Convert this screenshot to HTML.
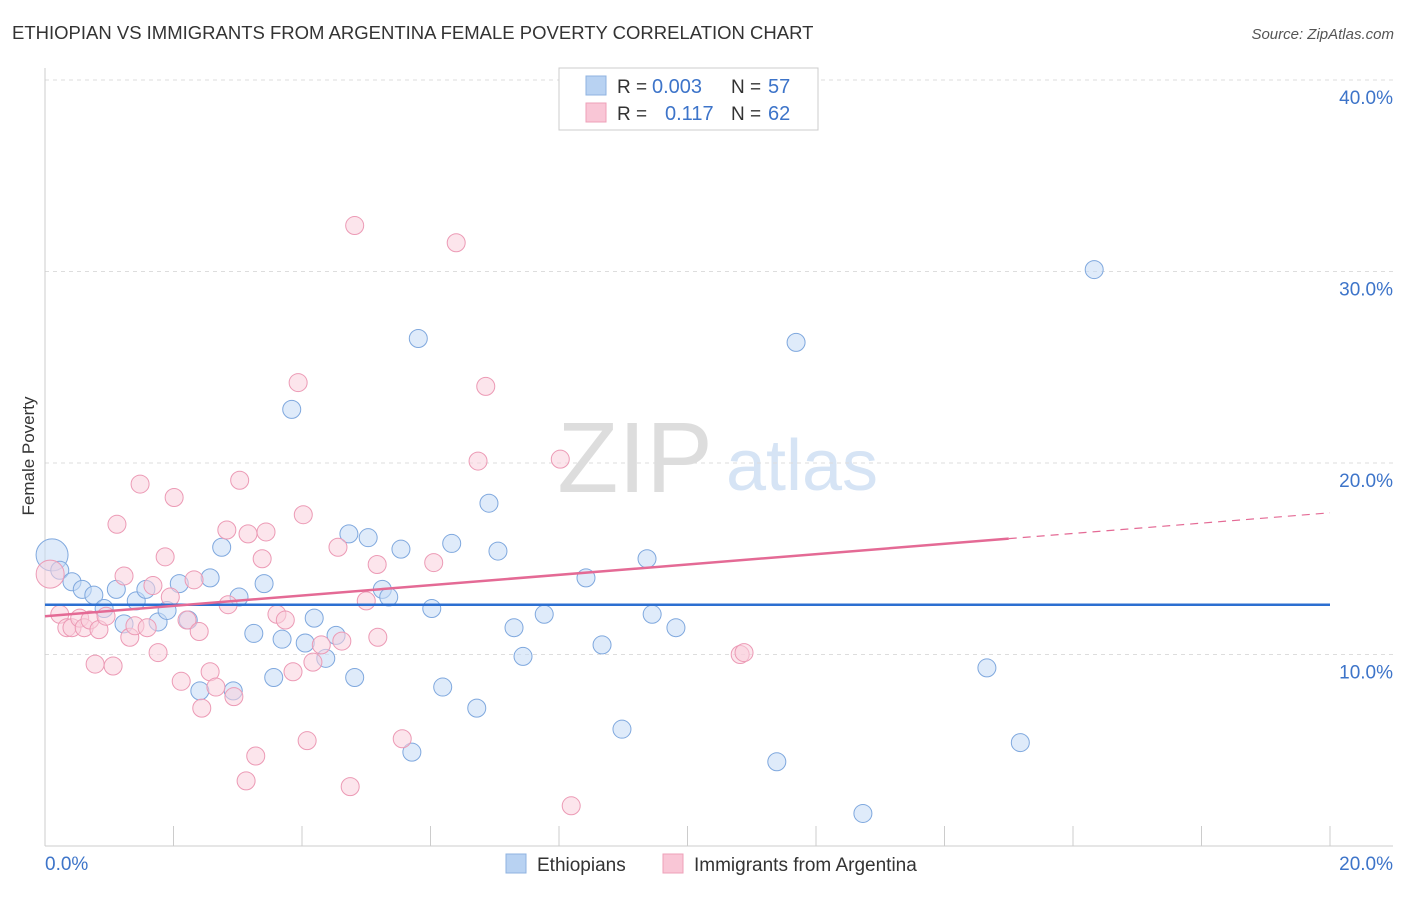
<!DOCTYPE html>
<html><head><meta charset="utf-8"><style>
body{margin:0;background:#fff;font-family:"Liberation Sans",sans-serif}
svg text{font-family:"Liberation Sans",sans-serif}
</style></head><body>
<svg id="c" width="1406" height="892" xmlns="http://www.w3.org/2000/svg">
<text x="12" y="39" font-size="18.5" fill="#333">ETHIOPIAN VS IMMIGRANTS FROM ARGENTINA FEMALE POVERTY CORRELATION CHART</text>
<text x="1394" y="39" font-size="15" fill="#555" font-style="italic" text-anchor="end">Source: ZipAtlas.com</text>
<text transform="translate(34,456) rotate(-90)" font-size="17" fill="#333" text-anchor="middle">Female Poverty</text>
<g>
<text x="635" y="492" font-size="100" fill="#ddd" font-family="Liberation Serif" text-anchor="middle">ZIP</text>
<text x="802" y="490" font-size="72" fill="#d6e4f5" text-anchor="middle">atlas</text>
</g>
<g id="grid"></g><g id="marks"></g><g id="lines"></g>
<g>
<rect x="559" y="68" width="259" height="62" fill="#fff" stroke="#ccc"/>
<rect x="586" y="76" width="20" height="19" fill="#b8d2f2" stroke="#8fb3e0"/>
<rect x="586" y="103" width="20" height="19" fill="#f9c6d6" stroke="#eea0b8"/>
<text x="617" y="93" font-size="19" fill="#333">R =</text>
<text x="652" y="93" font-size="20" fill="#3d74c9">0.003</text>
<text x="731" y="93" font-size="19" fill="#333">N =</text>
<text x="768" y="93" font-size="20" fill="#3d74c9">57</text>
<text x="617" y="120" font-size="19" fill="#333">R =</text>
<text x="665" y="120" font-size="20" fill="#3d74c9">0.117</text>
<text x="731" y="120" font-size="19" fill="#333">N =</text>
<text x="768" y="120" font-size="20" fill="#3d74c9">62</text>
</g>
<g>
<rect x="506" y="854" width="20" height="19" fill="#b8d2f2" stroke="#8fb3e0"/>
<text x="537" y="871" font-size="19" fill="#333">Ethiopians</text>
<rect x="663" y="854" width="20" height="19" fill="#f9c6d6" stroke="#eea0b8"/>
<text x="694" y="871" font-size="19" fill="#333">Immigrants from Argentina</text>
</g>
</svg>
<script>
const yTicks=[10,20,30,40];
const yTickLabels=["10.0%","20.0%","30.0%","40.0%"];
const xTickLabels=["0.0%","20.0%"];
const blueX=[0.11,0.23,0.42,0.58,0.76,1.11,0.92,1.23,1.42,1.57,1.76,1.90,2.09,2.23,2.57,2.41,2.75,2.93,3.02,3.25,3.41,3.56,3.69,3.84,4.05,4.19,4.37,4.53,4.73,4.82,5.03,5.25,5.35,5.54,5.71,5.81,6.02,6.19,6.33,6.72,6.91,7.05,7.30,7.44,7.77,8.42,8.67,8.98,9.37,9.45,9.82,11.39,11.69,12.73,14.66,15.18,16.33];
const blueY=[15.2,14.4,13.8,13.4,13.1,13.4,12.4,11.6,12.8,13.4,11.7,12.3,13.7,11.8,14.0,8.1,15.6,8.1,13.0,11.1,13.7,8.8,10.8,22.8,10.6,11.9,9.8,11.0,16.3,8.8,16.1,13.4,13.0,15.5,4.9,26.5,12.4,8.3,15.8,7.2,17.9,15.4,11.4,9.9,12.1,14.0,10.5,6.1,15.0,12.1,11.4,4.4,26.3,1.7,9.3,5.4,30.1];
const pinkX=[0.08,0.23,0.34,0.42,0.54,0.61,0.70,0.84,0.78,0.95,1.06,1.12,1.23,1.32,1.40,1.48,1.59,1.68,1.76,1.87,1.95,2.01,2.12,2.21,2.32,2.40,2.44,2.57,2.66,2.83,2.85,2.94,3.03,3.13,3.16,3.28,3.38,3.44,3.61,3.74,3.86,3.94,4.02,4.08,4.17,4.30,4.56,4.62,4.75,4.82,5.00,5.17,5.18,5.56,6.05,6.40,6.74,6.86,8.02,8.19,10.82,10.88];
const pinkY=[14.2,12.1,11.4,11.4,11.9,11.4,11.8,11.3,9.5,12.0,9.4,16.8,14.1,10.9,11.5,18.9,11.4,13.6,10.1,15.1,13.0,18.2,8.6,11.8,13.9,11.2,7.2,9.1,8.3,16.5,12.6,7.8,19.1,3.4,16.3,4.7,15.0,16.4,12.1,11.8,9.1,24.2,17.3,5.5,9.6,10.5,15.6,10.7,3.1,32.4,12.8,14.7,10.9,5.6,14.8,31.5,20.1,24.0,20.2,2.1,10.0,10.1];
const blueTrend=[12.6,12.6];
const pinkTrend=[12.0,17.4];
const X=v=>45+v/20*1285, Y=v=>846-v*19.15;
const NS="http://www.w3.org/2000/svg";
function mk(p,t,a){const e=document.createElementNS(NS,t);for(const k in a)e.setAttribute(k,a[k]);p.appendChild(e);return e;}
const g=document.getElementById('grid'),m=document.getElementById('marks'),l=document.getElementById('lines');
yTicks.forEach((v,i)=>{
 const ln=mk(g,'line',{x1:45,x2:1393,y1:Y(v),y2:Y(v),stroke:'#ddd','stroke-dasharray':'4,4'});
 
 
 const t=mk(g,'text',{x:1393,y:Y(v)+24,'font-size':19,fill:'#3d74c9','text-anchor':'end'});t.textContent=yTickLabels[i];
 
 
});
const ax=mk(g,'line',{x1:45,x2:45,y1:68,y2:846,stroke:'#ccc'});


const xa=mk(g,'line',{x1:45,x2:1393,y1:846,y2:846,stroke:'#ccc'});


for(let i=0;i<=10;i++){const tk=mk(g,'line',{x1:X(i*2),x2:X(i*2),y1:826,y2:846,stroke:'#ccc'});
 
 }
[[0,'start',45],[20,'end',1393]].forEach((d,i)=>{const t=mk(g,'text',{x:d[2],y:870,'font-size':19,fill:'#3d74c9','text-anchor':d[1]});t.textContent=xTickLabels[i];
 
 });
function pts(xs,ys,fill,stroke,name){xs.forEach((x,i)=>{const r=i===0?(name==='blue-point'?16:14):9;
 const c=mk(m,'circle',{cx:X(x),cy:Y(ys[i]),r:r,fill:fill,'fill-opacity':0.55,stroke:stroke,'stroke-width':1});
 
 });}
pts(blueX,blueY,'#c5daf5','#7fa8de','blue-point');
pts(pinkX,pinkY,'#fad0dd','#ec9ab5','pink-point');
const bl=mk(l,'line',{x1:X(0),x2:X(20),y1:Y(blueTrend[0]),y2:Y(blueTrend[1]),stroke:'#2c6fd1','stroke-width':2.5});


const pt=v=>pinkTrend[0]+(pinkTrend[1]-pinkTrend[0])*v/20;
const p1=mk(l,'line',{x1:X(0),x2:X(15),y1:Y(pt(0)),y2:Y(pt(15)),stroke:'#e46a95','stroke-width':2.5});


const p2=mk(l,'line',{x1:X(15),x2:X(20),y1:Y(pt(15)),y2:Y(pt(20)),stroke:'#e46a95','stroke-width':1.2,'stroke-dasharray':'8,6'});


</script>
</body></html>
